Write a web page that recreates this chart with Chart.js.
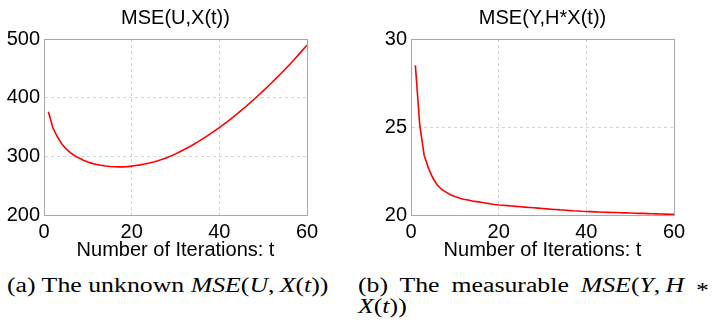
<!DOCTYPE html>
<html>
<head>
<meta charset="utf-8">
<script src="https://cdn.jsdelivr.net/npm/chart.js@4.4.1/dist/chart.umd.min.js"></script>
<style>
    html, body { margin: 0; padding: 0; background: #ffffff; }
    #page { position: relative; width: 718px; height: 321px; overflow: hidden; }
    .plot { position: absolute; top: 0; width: 359px; height: 262px; }
    .cap {
        position: absolute;
        font-family: 'Liberation Serif', 'Times New Roman', serif;
        font-size: 20px;
        line-height: 21px;
        color: #000;
        transform: scaleX(1.29);
        transform-origin: 0 0;
        white-space: nowrap;
    }
    .cap i { font-style: italic; }
    .justify { text-align: justify; text-align-last: justify; white-space: normal; }
    .star { position: relative; top: 5px; }
</style>
</head>
<body>
<div id="page">
    <div class="plot" style="left:0px"><canvas id="chartU"></canvas></div>
    <div class="plot" style="left:359px"><canvas id="chartY"></canvas></div>

    <div class="cap" style="left:7px; top:275px">(a) The unknown <i>MSE</i>(<i>U</i>,&thinsp;<i>X</i>(<i>t</i>))</div>
    <div class="cap justify" style="left:358px; top:275px; width:272px">(b) The measurable <i>MSE</i>(<i>Y</i>,&thinsp;<i>H</i> <span class="star">*</span></div>
    <div class="cap" style="left:358px; top:296px"><i>X</i>(<i>t</i>))</div>
</div>

<script>
// Data
const iterations = [
    1, 2, 3, 4, 5, 6, 7, 8, 9, 10,
    11, 12, 13, 14, 15, 16, 17, 18, 19, 20,
    21, 22, 23, 24, 25, 26, 27, 28, 29, 30,
    31, 32, 33, 34, 35, 36, 37, 38, 39, 40,
    41, 42, 43, 44, 45, 46, 47, 48, 49, 50,
    51, 52, 53, 54, 55, 56, 57, 58, 59, 60
];

const mseUX = [
    376, 349, 334, 322, 313, 306.5, 301, 297, 293.5, 290.5,
    288, 286.2, 284.8, 283.6, 282.8, 282.3, 282, 282, 282.5, 283.3,
    284.4, 285.5, 286.9, 288.6, 290.5, 292.6, 295, 297.7, 300.8, 304.2,
    307.8, 311.6, 315.6, 319.8, 324.2, 328.8, 333.6, 338.6, 343.7, 349,
    354.5, 360.2, 366, 372, 378.2, 384.5, 391, 397.7, 404.5, 411.5,
    418.6, 425.8, 433.2, 440.7, 448.4, 456.2, 464.2, 472.5, 481, 489.5
];

const mseYHX = [
    28.5, 25.1, 23.4, 22.65, 22.1, 21.7, 21.45, 21.3, 21.15, 21.05,
    20.97, 20.9, 20.85, 20.8, 20.76, 20.72, 20.68, 20.64, 20.6, 20.57,
    20.55, 20.53, 20.51, 20.49, 20.47, 20.45, 20.43, 20.41, 20.39, 20.37,
    20.35, 20.33, 20.31, 20.29, 20.28, 20.26, 20.24, 20.23, 20.21, 20.2,
    20.19, 20.18, 20.17, 20.16, 20.15, 20.145, 20.14, 20.13, 20.12, 20.11,
    20.1, 20.095, 20.09, 20.08, 20.07, 20.065, 20.06, 20.05, 20.045, 20.04
];

const xTicks = [0, 20, 40, 60];
const yTicksU = [200, 300, 400, 500];
const yTicksY = [20, 25, 30];

const titleU = 'MSE(U,X(t))';
const titleY = 'MSE(Y,H*X(t))';
const xAxisLabel = 'Number of Iterations: t';

// Styles
const FONT = "'Liberation Sans', Arial, Helvetica, sans-serif";
const LINE_RED = '#ff0000';
const GRID_COLOR = '#d4d4d4';
const BOX_COLOR = '#a8a8a8';

// Draws the MATLAB style box around the plot area
const boxPlugin = {
    id: 'plotBox',
    afterDraw(chart) {
        const { ctx, chartArea } = chart;
        ctx.save();
        ctx.strokeStyle = BOX_COLOR;
        ctx.lineWidth = 1;
        ctx.setLineDash([]);
        ctx.strokeRect(
            Math.round(chartArea.left) + 0.5,
            Math.round(chartArea.top) + 0.5,
            Math.round(chartArea.right - chartArea.left),
            Math.round(chartArea.bottom - chartArea.top)
        );
        ctx.restore();
    }
};

const makeChart = (canvasId, values, title, yTicks, yAxisWidth, rightPad) => {
    const ctx = document.getElementById(canvasId).getContext('2d');
    return new Chart(ctx, {
        type: 'line',
        data: {
            datasets: [
                {
                    data: iterations.map((t, i) => ({ x: t, y: values[i] })),
                    borderColor: LINE_RED,
                    borderWidth: 1.6,
                    pointRadius: 0,
                    tension: 0,
                    fill: false
                }
            ]
        },
        options: {
            responsive: true,
            maintainAspectRatio: false,
            animation: false,
            events: [],
            layout: {
                padding: { left: 0, right: rightPad, top: 0, bottom: 0 }
            },
            plugins: {
                legend: { display: false },
                tooltip: { enabled: false },
                title: {
                    display: true,
                    text: title,
                    fullSize: false,
                    color: '#000',
                    font: { family: FONT, size: 20, weight: 'normal', lineHeight: 1.2 },
                    padding: { top: 6, bottom: 9 }
                }
            },
            scales: {
                x: {
                    type: 'linear',
                    min: xTicks[0],
                    max: xTicks[xTicks.length - 1],
                    afterBuildTicks: (scale) => {
                        scale.ticks = xTicks.map((v) => ({ value: v }));
                    },
                    afterFit: (scale) => {
                        scale.height = 47;
                    },
                    grid: {
                        color: GRID_COLOR,
                        drawTicks: false
                    },
                    border: { display: true, color: BOX_COLOR, dash: [3, 3] },
                    ticks: {
                        color: '#000',
                        padding: 5,
                        maxRotation: 0,
                        font: { family: FONT, size: 20 }
                    },
                    title: {
                        display: true,
                        text: xAxisLabel,
                        color: '#000',
                        font: { family: FONT, size: 20 },
                        padding: { top: 0, bottom: 0 }
                    }
                },
                y: {
                    type: 'linear',
                    min: yTicks[0],
                    max: yTicks[yTicks.length - 1],
                    afterBuildTicks: (scale) => {
                        scale.ticks = yTicks.map((v) => ({ value: v }));
                    },
                    afterFit: (scale) => {
                        scale.width = yAxisWidth;
                    },
                    grid: {
                        color: GRID_COLOR,
                        drawTicks: false
                    },
                    border: { display: true, color: BOX_COLOR, dash: [3, 3] },
                    ticks: {
                        color: '#000',
                        padding: 4,
                        font: { family: FONT, size: 20 }
                    }
                }
            }
        },
        plugins: [boxPlugin]
    });
};

makeChart('chartU', mseUX, titleU, yTicksU, 44, 52);
makeChart('chartY', mseYHX, titleY, yTicksY, 52, 44);
</script>
</body>
</html>
